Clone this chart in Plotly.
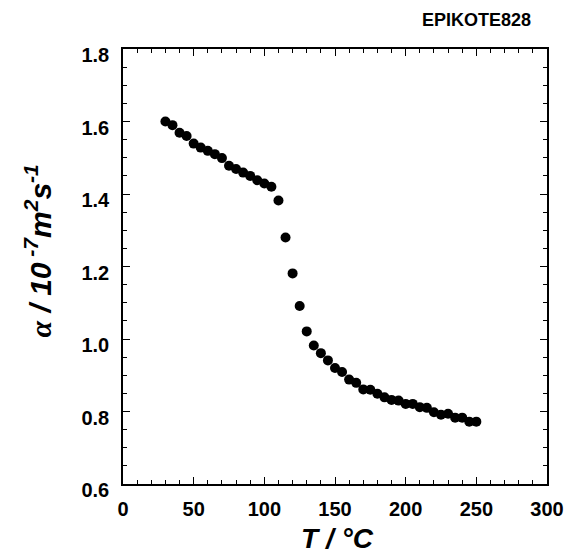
import plotly.graph_objects as go

temperature_c = [30, 35, 40, 45, 50, 55, 60, 65, 70, 75, 80, 85, 90, 95, 100,
                 105, 110, 115, 120, 125, 130, 135, 140, 145, 150, 155, 160,
                 165, 170, 175, 180, 185, 190, 195, 200, 205, 210, 215, 220,
                 225, 230, 235, 240, 245, 250]
alpha_values = [1.600, 1.590, 1.569, 1.560, 1.539, 1.528, 1.519, 1.510, 1.499,
                1.478, 1.469, 1.459, 1.450, 1.438, 1.429, 1.420, 1.382, 1.280,
                1.181, 1.091, 1.021, 0.982, 0.961, 0.941, 0.920, 0.909, 0.888,
                0.879, 0.861, 0.860, 0.849, 0.839, 0.832, 0.830, 0.821, 0.821,
                0.812, 0.810, 0.798, 0.791, 0.794, 0.783, 0.783, 0.772, 0.772]

x_ticks = [0, 50, 100, 150, 200, 250, 300]
y_ticks = [0.6, 0.8, 1.0, 1.2, 1.4, 1.6, 1.8]

FONT = "Liberation Sans"

fig = go.Figure()
fig.add_trace(go.Scatter(
    x=temperature_c, y=alpha_values, mode="markers",
    marker=dict(color="black", size=10, line=dict(width=0)),
    showlegend=False,
))

axis_common = dict(
    showline=True, linecolor="black", linewidth=1.5, mirror="allticks",
    ticks="inside", ticklen=7, tickwidth=1.2, tickcolor="black",
    showgrid=False, zeroline=False,
    tickfont=dict(family=FONT, size=20, color="black", weight="bold"),
)

# The page body has an 8px default margin, so the figure is 8px smaller
fig.update_layout(
    width=568, height=545,
    margin=dict(l=115, r=23, t=41, b=69),
    paper_bgcolor="white", plot_bgcolor="white",
    xaxis=dict(range=[0, 300], tickvals=x_ticks,
               ticktext=[str(v) for v in x_ticks],
               minor=dict(dtick=10, ticks="inside", ticklen=4, tickcolor="black"),
               ticklabelstandoff=6, **axis_common),
    yaxis=dict(range=[0.6, 1.8], tickvals=y_ticks,
               ticktext=[f"{v:.1f}" for v in y_ticks],
               minor=dict(dtick=0.05, ticks="inside", ticklen=4, tickcolor="black"),
               ticklabelstandoff=8, ticklabelshift=6, **axis_common),
)

fig.add_annotation(
    text="EPIKOTE828", xref="paper", yref="paper", x=(539 - 123) / 430,
    y=1 + 29 / 435, xanchor="right", yanchor="middle", showarrow=False,
    font=dict(family=FONT, size=18, color="black", weight="bold"),
)
fig.add_annotation(
    text="T / °C", xref="paper", yref="paper", x=(341 - 123) / 430,
    y=-54 / 435, xanchor="center", yanchor="middle", showarrow=False,
    font=dict(family=FONT, size=28, color="black", weight="bold", style="italic"),
)
fig.add_annotation(
    text=("<span style='font-family:Liberation Serif'>α</span> / 10<sup> -7</sup>"
          "m<sup>2</sup>s<sup>-1</sup>"),
    xref="paper", yref="paper", x=-86 / 430, y=0.535, textangle=-90,
    xanchor="center", yanchor="middle", showarrow=False,
    font=dict(family=FONT, size=30, color="black", weight="bold", style="italic"),
)

fig.write_html("out.html")
